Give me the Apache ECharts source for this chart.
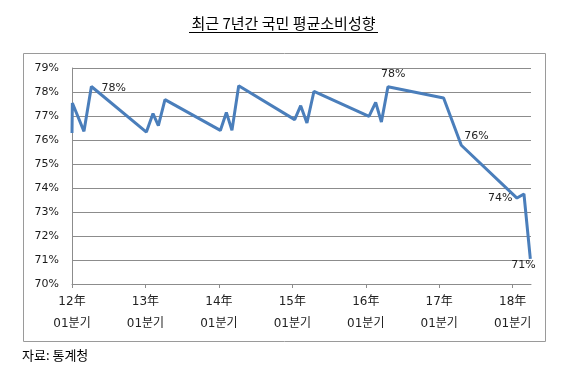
<!DOCTYPE html>
<html>
<head>
<meta charset="utf-8">
<script src="https://cdn.jsdelivr.net/npm/echarts@6/dist/echarts.min.js"></script>
<style>html,body{margin:0;padding:0;background:#fff;}#c{width:567px;height:375px;}</style>
</head>
<body>
<div id="c"></div>
<script>
// x position in years after 12年 01분기 (as plotted on the source's date-like axis)
var xPos = [0.0, 0.005, 0.163, 0.264, 1.013, 1.103, 1.176, 1.266, 2.020, 2.102, 2.178, 2.270,
            3.032, 3.114, 3.199, 3.295, 4.044, 4.135, 4.213, 4.302, 5.060, 5.301, 6.059, 6.154, 6.241];
// 평균소비성향 (%)
var values = [76.29, 77.54, 76.36, 78.23, 76.33, 77.10, 76.60, 77.68, 76.40, 77.15, 76.40, 78.26,
              76.85, 77.43, 76.71, 78.03, 76.98, 77.57, 76.75, 78.22, 77.75, 75.78, 73.58, 73.75, 71.05];
var yearTicks = [0, 1, 2, 3, 4, 5, 6];
var yearNames = ['12年', '13年', '14年', '15年', '16年', '17年', '18年'];
var quarterName = '01분기';
var titleText = '최근 7년간 국민 평균소비성향';
var sourceText = '자료: 통계청';
var labelledIdx = [3, 19, 21, 22, 24];

// label placement relative to the point (text top-left)
var labelStyles = {
  3:  [10, -4],
  19: [-7, -18],
  21: [3, -15],
  22: [-29, -5],
  24: [-19, 1]
};

var data = xPos.map(function (x, i) {
  var item = {value: [x, values[i]], label: {show: false}};
  if (labelledIdx.indexOf(i) >= 0) {
    item.label = {show: true, position: labelStyles[i]};
  }
  return item;
});

var chart = echarts.init(document.getElementById('c'));
chart.setOption({
  animation: false,
  backgroundColor: '#fff',
  title: {
    text: titleText, left: 'center', top: 11,
    textStyle: {fontFamily: 'Noto Sans CJK KR', fontSize: 15, fontWeight: 'normal', color: '#000'}
  },
  graphic: [
    {type: 'line', shape: {x1: 189, y1: 32.5, x2: 378, y2: 32.5}, style: {stroke: '#000', lineWidth: 1}},
    {type: 'rect', shape: {x: 23.5, y: 53.5, width: 522, height: 288}, style: {fill: 'none', stroke: '#9a9a9a', lineWidth: 1}, z: -1},
    {type: 'text', left: 22, top: 349, style: {text: sourceText, font: '13px "Noto Sans CJK KR"', fill: '#000'}}
  ],
  grid: {left: 72, right: 36, top: 68, bottom: 91},
  xAxis: {
    type: 'value', min: 0, max: 6.25, interval: 1,
    axisLine: {show: true, lineStyle: {color: '#8c8c8c', width: 1}},
    axisTick: {show: true, length: 4, customValues: yearTicks, lineStyle: {color: '#8c8c8c'}},
    splitLine: {show: false},
    axisLabel: {
      customValues: yearTicks,
      margin: 7, lineHeight: 22,
      fontFamily: 'DejaVu Sans, Noto Sans CJK KR', fontSize: 12, color: '#222',
      formatter: function (v) {
        var i = yearTicks.indexOf(Math.round(v));
        return i >= 0 ? yearNames[i] + '\n' + quarterName : '';
      }
    }
  },
  yAxis: {
    type: 'value', min: 70, max: 79, interval: 1,
    axisLine: {show: true, lineStyle: {color: '#8c8c8c', width: 1}},
    axisTick: {show: false},
    splitLine: {show: true, lineStyle: {color: '#8c8c8c', width: 1}},
    axisLabel: {margin: 13, fontFamily: 'DejaVu Sans', fontSize: 11, color: '#1a1a1a', formatter: '{value}%'}
  },
  series: [{
    type: 'line', data: data, showSymbol: true, symbol: 'circle', symbolSize: 0,
    lineStyle: {color: '#4a7ebb', width: 3}, itemStyle: {color: '#4a7ebb'},
    label: {
      show: false,
      formatter: function (p) { return Math.round(p.value[1]) + '%'; },
      fontFamily: 'DejaVu Sans', fontSize: 11, color: '#222'
    },
    labelLayout: {hideOverlap: false},
    clip: false
  }]
});
</script>
</body>
</html>
